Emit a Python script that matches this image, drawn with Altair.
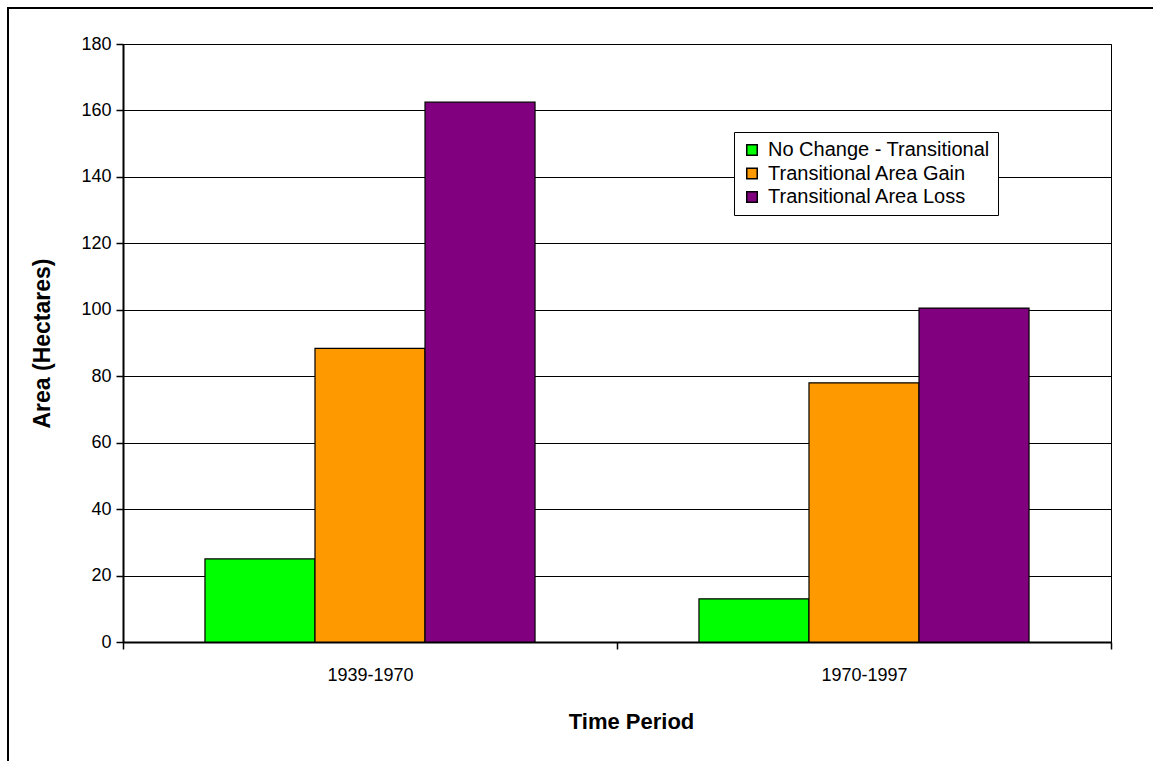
import altair as alt
import pandas as pd

periods = ["1939-1970", "1970-1997"]
series = ["No Change - Transitional", "Transitional Area Gain", "Transitional Area Loss"]
colors = ["#00FF00", "#FF9900", "#800080"]
no_change = [25, 13]
gain = [88.4, 78]
loss = [162.5, 100.5]

rows = []
for i, p in enumerate(periods):
    rows.append({"period": p, "series": series[0], "value": no_change[i]})
    rows.append({"period": p, "series": series[1], "value": gain[i]})
    rows.append({"period": p, "series": series[2], "value": loss[i]})
df = pd.DataFrame(rows)

FONT = "Liberation Sans"

bars = alt.Chart(df).mark_bar(stroke="black", strokeWidth=1.2).encode(
    x=alt.X("period:N", sort=periods,
            scale=alt.Scale(paddingInner=0, paddingOuter=0),
            axis=alt.Axis(title="Time Period", labelAngle=0, tickBand="extent",
                          domainColor="black", domainWidth=2, tickColor="black",
                          tickWidth=1.5, tickSize=7, labelFont=FONT, labelFontSize=18,
                          labelColor="black", labelBaseline="middle", labelPadding=26,
                          titleFont=FONT, titleFontSize=22, titleFontWeight="bold",
                          titleColor="black", titleBaseline="middle", titleY=79,
                          titleX=508, grid=False)),
    xOffset=alt.XOffset("series:N", sort=series,
                        scale=alt.Scale(paddingInner=0, paddingOuter=0.745)),
    y=alt.Y("value:Q", scale=alt.Scale(domain=[0, 180], nice=False),
            axis=alt.Axis(title="Area (Hectares)", values=list(range(0, 181, 20)),
                          grid=True, gridColor="black", gridWidth=1,
                          domainColor="black", domainWidth=2, tickColor="black",
                          tickWidth=1.5, tickSize=7, labelFont=FONT, labelFontSize=18,
                          labelColor="black", labelPadding=5,
                          titleFont=FONT, titleFontSize=23, titleFontWeight="bold",
                          titleColor="black", titleX=-81, titleY=299,
                          titleAlign="center", titleBaseline="middle")),
    color=alt.Color("series:N", sort=series,
                    scale=alt.Scale(domain=series, range=colors),
                    legend=alt.Legend(title=None, orient="none", legendX=611, legendY=88,
                                      strokeColor="black", fillColor="white",
                                      padding=8, symbolType="square", symbolSize=110,
                                      symbolStrokeColor="black", symbolStrokeWidth=1.5,
                                      labelFont=FONT, labelFontSize=20, labelColor="black",
                                      labelLimit=0, rowPadding=3.5, labelOffset=6,
                                      cornerRadius=0)),
)

frame = alt.Chart(alt.Data(values=[{"a": 1}])).mark_rect(
    fill="transparent", stroke="black", strokeWidth=2
).encode(
    x=alt.value(-115), x2=alt.value(1070), y=alt.value(-36), y2=alt.value(760)
)

chart = alt.layer(bars, frame).properties(
    width=988, height=598,
    autosize=alt.AutoSizeParams(type="none"),
    padding={"left": 123, "top": 44, "right": 42, "bottom": 119},
    background="white",
).configure_view(stroke="black", strokeWidth=1)

chart.save("out.html", embed_options={"renderer": "svg", "actions": False})
